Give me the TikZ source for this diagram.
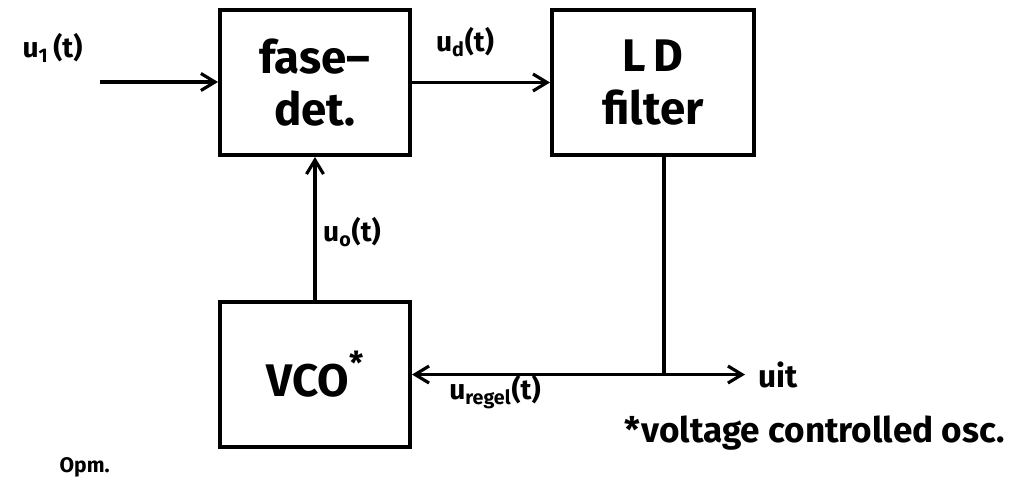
\documentclass[tikz,border=0pt]{standalone}
\usepackage{fontspec}
\setmainfont{Fira Sans}
\usetikzlibrary{arrows.meta, positioning, calc}

\begin{document}
\begin{tikzpicture}[
        blok/.style={draw, line width=2.3pt, minimum width=3.8cm, minimum height=2.9cm, inner sep=0pt,
          font=\fontsize{26}{30}\selectfont\bfseries, align=center},
        sig/.style={-{Straight Barb[length=2.8mm, width=3.4mm, line width=1.8pt]}, line width=2pt},
        lijn/.style={line width=2pt},
        lbl/.style={font=\fontsize{16}{18}\selectfont\bfseries}
      ]
        \useasboundingbox (0,0) rectangle (20.66,9.58);
        \node[blok] (det) at (6.3,7.93) {fase--\\det.};
        \node[blok, minimum width=4.04cm, right=2.76cm of det] (filt) {L\,D\\filter};
        \node[blok, below=2.86cm of det] (vco) {VCO\raisebox{0.9ex}{\fontsize{18}{20}\selectfont*}};
        \coordinate (in) at (2.0,7.94);
        \coordinate (tap) at ($(filt.south)+(0.22,0)$);
        \coordinate (tak) at (tap |- vco.east);
        \coordinate (uit) at (14.9,0 |- vco.east);
        % signaalpaden
        \draw[sig] (in) -- (det.west |- in);
        \draw[sig] (det.east) -- (filt.west);
        \draw[sig] (vco.north) -- (det.south);
        \draw[lijn] (tap) -- (tak);
        \draw[sig] (tak) -- (vco.east);
        \draw[sig] (tak) -- (uit);
        % labels
        \node[lbl] (ui) at (1.05,8.62) {u\textsubscript{1}\,(t)};
        \node[lbl] (ud) at (9.3,8.74) {u\textsubscript{d}(t)};
        \node[lbl] (uo) at (7.04,4.94) {u\textsubscript{o}(t)};
        \node[lbl] (ur) at (9.9,1.74) {u\textsubscript{regel}(t)};
        \node[lbl, font=\fontsize{18}{20}\selectfont\bfseries, right=0.15cm of uit] (uitl) {uit};
        \node[lbl, font=\fontsize{20}{22}\selectfont\bfseries] (noot) at (16.3,0.92) {*voltage controlled osc.};
        \node[lbl, font=\fontsize{12}{14}\selectfont\bfseries, anchor=south west, inner sep=1pt] (opm) at (1.15,0) {Opm.};
      \end{tikzpicture}
\end{document}
